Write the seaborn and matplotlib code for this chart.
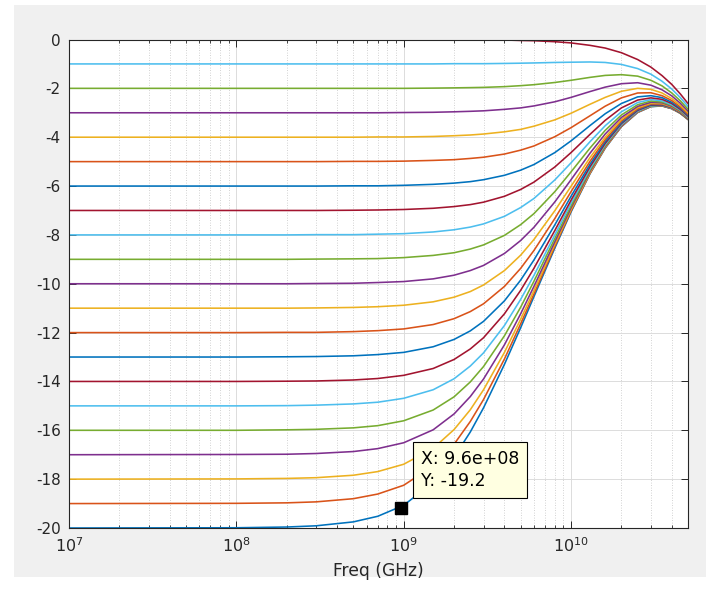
import matplotlib
matplotlib.use("Agg")
import matplotlib.pyplot as plt
import numpy as np
import pandas as pd
import seaborn as sns
from matplotlib.ticker import LogLocator, NullFormatter, FixedLocator

# ---------------- data ----------------
freq_ghz = [0.01, 0.1, 0.2, 0.3, 0.5, 0.7, 1, 1.5, 2, 2.5, 3, 4, 5, 6, 8, 10, 13, 16, 20, 25, 30, 35, 40, 45, 50]

gain_00 = [0.00, 0.00, 0.00, 0.00, 0.00, 0.00, 0.00, 0.00, -0.01, -0.01, -0.01, -0.02, -0.04, -0.05, -0.09, -0.14, -0.24, -0.35, -0.54, -0.82, -1.13, -1.48, -1.84, -2.23, -2.62]
gain_01 = [-1.00, -1.00, -1.00, -1.00, -1.00, -1.00, -1.00, -1.00, -0.99, -0.99, -0.99, -0.98, -0.97, -0.96, -0.94, -0.93, -0.92, -0.94, -1.02, -1.19, -1.42, -1.71, -2.03, -2.38, -2.74]
gain_02 = [-2.00, -2.00, -2.00, -2.00, -2.00, -2.00, -2.00, -1.99, -1.98, -1.97, -1.96, -1.93, -1.89, -1.85, -1.76, -1.67, -1.55, -1.47, -1.44, -1.50, -1.67, -1.90, -2.19, -2.51, -2.85]
gain_03 = [-3.00, -3.00, -3.00, -3.00, -3.00, -3.00, -2.99, -2.98, -2.96, -2.94, -2.92, -2.86, -2.80, -2.72, -2.55, -2.37, -2.13, -1.95, -1.81, -1.77, -1.87, -2.06, -2.31, -2.61, -2.93]
gain_04 = [-4.00, -4.00, -4.00, -4.00, -4.00, -3.99, -3.99, -3.97, -3.94, -3.91, -3.87, -3.78, -3.68, -3.55, -3.29, -3.02, -2.65, -2.37, -2.12, -2.00, -2.04, -2.19, -2.42, -2.69, -3.00]
gain_05 = [-5.00, -5.00, -5.00, -5.00, -4.99, -4.99, -4.98, -4.95, -4.92, -4.87, -4.82, -4.69, -4.53, -4.36, -3.98, -3.61, -3.12, -2.73, -2.39, -2.19, -2.18, -2.30, -2.50, -2.76, -3.06]
gain_06 = [-6.00, -6.00, -6.00, -6.00, -5.99, -5.99, -5.97, -5.93, -5.88, -5.82, -5.74, -5.56, -5.35, -5.12, -4.63, -4.15, -3.52, -3.04, -2.62, -2.35, -2.30, -2.38, -2.57, -2.81, -3.10]
gain_07 = [-7.00, -7.00, -7.00, -7.00, -6.99, -6.98, -6.96, -6.91, -6.84, -6.76, -6.66, -6.42, -6.14, -5.84, -5.22, -4.63, -3.88, -3.31, -2.80, -2.48, -2.39, -2.45, -2.62, -2.86, -3.14]
gain_08 = [-8.00, -8.00, -8.00, -7.99, -7.99, -7.97, -7.95, -7.88, -7.79, -7.68, -7.55, -7.24, -6.88, -6.51, -5.75, -5.05, -4.18, -3.53, -2.96, -2.58, -2.46, -2.51, -2.67, -2.89, -3.17]
gain_09 = [-9.00, -9.00, -9.00, -8.99, -8.98, -8.97, -8.93, -8.84, -8.73, -8.58, -8.41, -8.02, -7.58, -7.13, -6.23, -5.42, -4.44, -3.72, -3.09, -2.67, -2.52, -2.56, -2.70, -2.92, -3.19]
gain_10 = [-10.00, -10.00, -10.00, -9.99, -9.98, -9.95, -9.91, -9.80, -9.65, -9.46, -9.25, -8.76, -8.23, -7.69, -6.65, -5.74, -4.65, -3.87, -3.19, -2.74, -2.57, -2.59, -2.73, -2.94, -3.21]
gain_11 = [-11.00, -11.00, -11.00, -10.99, -10.97, -10.94, -10.88, -10.74, -10.55, -10.32, -10.05, -9.46, -8.83, -8.19, -7.01, -6.01, -4.83, -4.00, -3.27, -2.79, -2.61, -2.62, -2.75, -2.96, -3.22]
gain_12 = [-12.00, -12.00, -11.99, -11.99, -11.96, -11.92, -11.85, -11.67, -11.43, -11.14, -10.82, -10.11, -9.37, -8.64, -7.33, -6.23, -4.98, -4.10, -3.34, -2.84, -2.64, -2.64, -2.77, -2.97, -3.23]
gain_13 = [-13.00, -13.00, -12.99, -12.98, -12.95, -12.90, -12.81, -12.58, -12.28, -11.93, -11.54, -10.70, -9.85, -9.03, -7.59, -6.42, -5.10, -4.18, -3.40, -2.87, -2.67, -2.66, -2.78, -2.99, -3.24]
gain_14 = [-14.00, -14.00, -13.99, -13.98, -13.94, -13.88, -13.75, -13.47, -13.10, -12.67, -12.21, -11.23, -10.27, -9.37, -7.82, -6.58, -5.20, -4.25, -3.44, -2.90, -2.69, -2.68, -2.79, -3.00, -3.25]
gain_15 = [-15.00, -15.00, -14.99, -14.97, -14.92, -14.85, -14.69, -14.34, -13.89, -13.37, -12.83, -11.71, -10.64, -9.66, -8.00, -6.70, -5.28, -4.30, -3.48, -2.93, -2.71, -2.69, -2.80, -3.00, -3.26]
gain_16 = [-16.00, -16.00, -15.98, -15.96, -15.90, -15.81, -15.61, -15.17, -14.63, -14.02, -13.39, -12.13, -10.96, -9.90, -8.15, -6.81, -5.34, -4.35, -3.50, -2.94, -2.72, -2.70, -2.81, -3.01, -3.26]
gain_17 = [-17.00, -16.99, -16.98, -16.95, -16.87, -16.75, -16.51, -15.98, -15.33, -14.62, -13.90, -12.50, -11.23, -10.11, -8.28, -6.89, -5.39, -4.38, -3.53, -2.96, -2.73, -2.71, -2.82, -3.01, -3.26]
gain_18 = [-18.00, -17.99, -17.97, -17.94, -17.84, -17.69, -17.39, -16.74, -15.97, -15.16, -14.34, -12.81, -11.45, -10.28, -8.38, -6.96, -5.44, -4.41, -3.54, -2.97, -2.74, -2.71, -2.82, -3.02, -3.27]
gain_19 = [-19.00, -18.99, -18.97, -18.93, -18.80, -18.61, -18.25, -17.46, -16.57, -15.64, -14.74, -13.08, -11.64, -10.42, -8.47, -7.02, -5.47, -4.43, -3.56, -2.98, -2.74, -2.72, -2.83, -3.02, -3.27]
gain_20 = [-20.00, -19.99, -19.96, -19.91, -19.75, -19.52, -19.07, -18.13, -17.10, -16.07, -15.08, -13.30, -11.80, -10.53, -8.54, -7.06, -5.49, -4.45, -3.57, -2.99, -2.75, -2.72, -2.83, -3.02, -3.27]

dc_gain_db = [0, -1, -2, -3, -4, -5, -6, -7, -8, -9, -10, -11, -12, -13, -14, -15, -16, -17, -18, -19, -20]
curves = [gain_00, gain_01, gain_02, gain_03, gain_04, gain_05, gain_06, gain_07, gain_08, gain_09, gain_10,
          gain_11, gain_12, gain_13, gain_14, gain_15, gain_16, gain_17, gain_18, gain_19, gain_20]

datatip_x = 9.6e8
datatip_y = -19.2
datatip_label = "X: 9.6e+08\nY: -19.2"

y_ticks = [-20, -18, -16, -14, -12, -10, -8, -6, -4, -2, 0]
x_ticks = [1e7, 1e8, 1e9, 1e10]

matlab_colors = ["#0072BD", "#D95319", "#EDB120", "#7E2F8E", "#77AC30", "#4DBEEE", "#A2142F"]

# ---------------- build long table ----------------
rows = []
for g, vals in zip(dc_gain_db, curves):
    for f, v in zip(freq_ghz, vals):
        rows.append({"freq": f * 1e9, "gain": v, "dc": g})
df = pd.DataFrame(rows)

hue_order = dc_gain_db[::-1]   # plotted from -20 dB up to 0 dB (MATLAB colour cycling)
palette = {g: matlab_colors[i % 7] for i, g in enumerate(hue_order)}

# ---------------- style ----------------
plt.rcParams["font.family"] = ["DejaVu Sans"]
plt.rcParams["axes.unicode_minus"] = False
AX_COL = "#262626"

fig = plt.figure(figsize=(7.06, 5.93), dpi=100, facecolor="white")

# grey window background of the screenshot (an axes spanning the grey area, drawn beneath)
bg = fig.add_axes([14 / 706, 1 - 577 / 593, 1 - 14 / 706, (577 - 5) / 593], zorder=0)
bg.set_facecolor("#f0f0f0")
bg.set_xticks([])
bg.set_yticks([])
for sp in bg.spines.values():
    sp.set_visible(False)

ax = fig.add_axes([69 / 706, 1 - 528 / 593, (688 - 69) / 706, (528 - 39.5) / 593], zorder=2)
ax.set_facecolor("white")

sns.lineplot(data=df, x="freq", y="gain", hue="dc", hue_order=hue_order, palette=palette,
             estimator=None, sort=False, legend=False, linewidth=1.15, ax=ax)

ax.set_xscale("log")
ax.set_xlim(1e7, 5e10)
ax.set_ylim(-20, 0)

ax.xaxis.set_major_locator(FixedLocator(x_ticks))
ax.xaxis.set_minor_locator(LogLocator(base=10, subs=np.arange(2, 10), numticks=20))
ax.xaxis.set_minor_formatter(NullFormatter())
ax.set_yticks(y_ticks)
ax.set_yticklabels([str(t) for t in y_ticks])

ax.grid(True, which="major", axis="both", color="#dcdcdc", linewidth=0.7, linestyle="-")
ax.grid(True, which="minor", axis="x", color="#c4c4c4", linewidth=0.6, linestyle=(0, (1, 2)))
ax.set_axisbelow(True)

ax.tick_params(which="major", direction="in", top=True, right=True, length=5, width=0.7,
               color=AX_COL, labelcolor=AX_COL, labelsize=11, pad=6)
ax.tick_params(axis="x", which="major", labelsize=11.5)
ax.tick_params(which="minor", direction="in", top=True, right=True, length=2.5, width=0.6, color=AX_COL)
for sp in ax.spines.values():
    sp.set_color(AX_COL)
    sp.set_linewidth(0.8)

ax.set_xlabel("Freq (GHz)", fontsize=12.3, color=AX_COL, labelpad=5)
ax.set_ylabel("")

# data tip
ax.plot([datatip_x], [datatip_y], marker="s", markersize=8, color="black", linestyle="none", zorder=5)
ax.annotate(datatip_label, xy=(datatip_x, datatip_y), xycoords="data",
            xytext=(20, 18), textcoords="offset pixels", ha="left", va="bottom",
            fontsize=12.5, color="black", linespacing=1.35, zorder=6,
            bbox=dict(boxstyle="square,pad=0.45", facecolor="#ffffe1", edgecolor="black", linewidth=0.8))

fig.savefig("out.png", dpi=100, facecolor="white")
